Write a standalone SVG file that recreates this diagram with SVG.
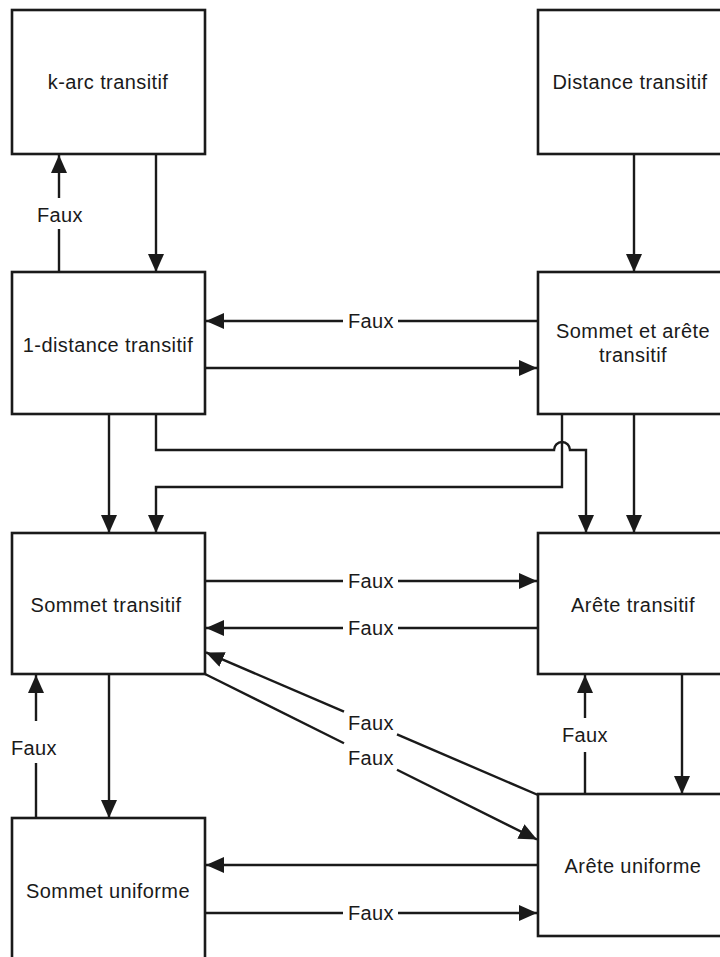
<svg xmlns="http://www.w3.org/2000/svg" width="720" height="957" viewBox="0 0 720 957">
<defs>
<marker id="ah" markerUnits="userSpaceOnUse" markerWidth="20" markerHeight="18" refX="18" refY="8" orient="auto">
<path d="M0,0 L18,8 L0,16 z" fill="#1a1a1a"/>
</marker>
<style>
rect{fill:#fff;stroke:#1a1a1a;stroke-width:2.6}
text{font-family:"Liberation Sans",Arial,sans-serif;font-size:20px;fill:#1a1a1a;text-anchor:middle;letter-spacing:0.4px}
#edges path,#edges line{fill:none;stroke:#1a1a1a;stroke-width:2.4}
.a{marker-end:url(#ah)}
</style>
</defs>
<rect x="0" y="0" width="720" height="957" style="fill:#fff;stroke:none"/>
<g id="edges">
<line x1="156" y1="154" x2="156" y2="272" class="a"/>
<line x1="59" y1="272" x2="59" y2="229"/>
<line x1="59" y1="198" x2="59" y2="155" class="a"/>
<text x="60" y="222">Faux</text>
<line x1="634" y1="154" x2="634" y2="272" class="a"/>
<line x1="538" y1="321" x2="398" y2="321"/>
<line x1="343" y1="321" x2="206" y2="321" class="a"/>
<text x="371" y="328">Faux</text>
<line x1="205" y1="368" x2="537" y2="368" class="a"/>
<line x1="109" y1="414" x2="109" y2="533" class="a"/>
<path d="M156,414 V450 H554 A8,8 0 0 1 570,450 H586 V533" class="a"/>
<path d="M562,414 V487 H156 V533" class="a"/>
<line x1="634" y1="414" x2="634" y2="533" class="a"/>
<line x1="205" y1="581" x2="343" y2="581"/>
<line x1="398" y1="581" x2="537" y2="581" class="a"/>
<text x="371" y="588">Faux</text>
<line x1="538" y1="628" x2="398" y2="628"/>
<line x1="343" y1="628" x2="206" y2="628" class="a"/>
<text x="371" y="635">Faux</text>
<line x1="538" y1="795" x2="397" y2="734.4"/>
<line x1="344" y1="711.7" x2="206" y2="652.4" class="a"/>
<text x="371" y="730">Faux</text>
<line x1="205" y1="674" x2="344" y2="743.3"/>
<line x1="397" y1="769.7" x2="537" y2="839.5" class="a"/>
<text x="371" y="765">Faux</text>
<line x1="109" y1="674" x2="109" y2="818" class="a"/>
<line x1="36" y1="818" x2="36" y2="763"/>
<line x1="36" y1="721" x2="36" y2="675" class="a"/>
<text x="34" y="755">Faux</text>
<line x1="682" y1="674" x2="682" y2="794" class="a"/>
<line x1="585" y1="794" x2="585" y2="752"/>
<line x1="585" y1="718" x2="585" y2="675" class="a"/>
<text x="585" y="742">Faux</text>
<line x1="538" y1="865" x2="206" y2="865" class="a"/>
<line x1="205" y1="913" x2="343" y2="913"/>
<line x1="398" y1="913" x2="537" y2="913" class="a"/>
<text x="371" y="920">Faux</text>
</g>
<g id="karc"><rect x="12" y="10" width="193" height="144"/><text x="108" y="89">k-arc transitif</text></g>
<g id="distance"><rect x="538" y="10" width="200" height="144"/><text x="630" y="89">Distance transitif</text></g>
<g id="onedistance"><rect x="12" y="272" width="193" height="142"/><text x="108" y="352">1-distance transitif</text></g>
<g id="sommetarete"><rect x="538" y="272" width="200" height="142"/><text x="633" y="338">Sommet et arête</text><text x="633" y="362">transitif</text></g>
<g id="sommettransitif"><rect x="12" y="533" width="193" height="141"/><text x="106" y="612">Sommet transitif</text></g>
<g id="aretetransitif"><rect x="538" y="533" width="200" height="141"/><text x="633" y="612">Arête transitif</text></g>
<g id="sommetuniforme"><rect x="12" y="818" width="193" height="160"/><text x="108" y="898">Sommet uniforme</text></g>
<g id="areteuniforme"><rect x="538" y="794" width="200" height="142"/><text x="633" y="873">Arête uniforme</text></g>
</svg>
